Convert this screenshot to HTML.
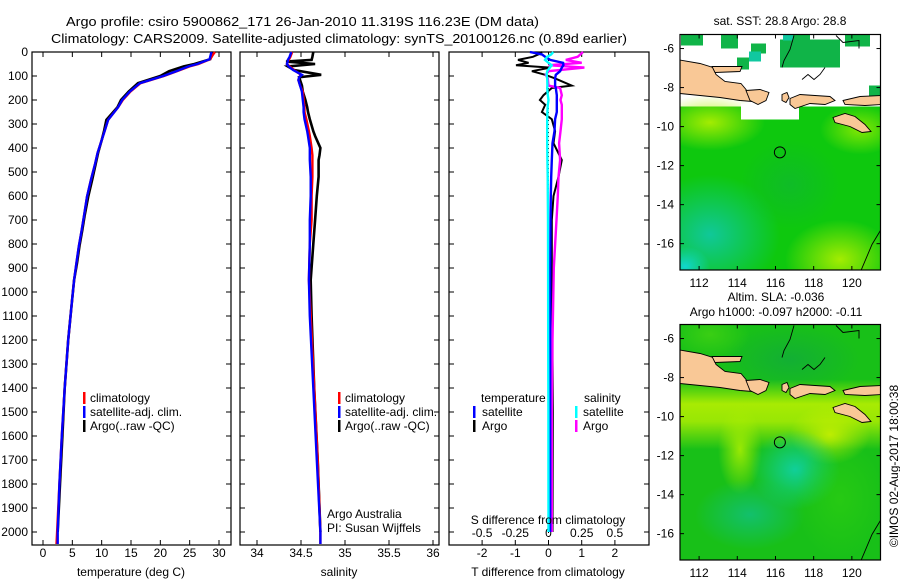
<!DOCTYPE html>
<html><head><meta charset="utf-8"><style>
html,body{margin:0;padding:0;background:#fff;}
svg{display:block;font-family:"Liberation Sans",sans-serif;}
text{font-size:12px;fill:#000;}
</style></head><body>
<svg id="fig" width="900" height="580" viewBox="0 0 900 580" xmlns="http://www.w3.org/2000/svg">
<text x="66" y="26" textLength="473" lengthAdjust="spacingAndGlyphs" style="font-size:13px">Argo profile: csiro 5900862_171 26-Jan-2010 11.319S 116.23E (DM data)</text>
<text x="51" y="43" textLength="576" lengthAdjust="spacingAndGlyphs" style="font-size:13px">Climatology: CARS2009. Satellite-adjusted climatology: synTS_20100126.nc (0.89d earlier)</text>
<g id="p1"></g>
<g id="p2"></g>
<g id="p3"></g>
<g id="m1"></g>
<g id="m2"></g>
<text x="780" y="25" text-anchor="middle">sat. SST: 28.8 Argo: 28.8</text>
<text x="776" y="301" text-anchor="middle">Altim. SLA: -0.036</text>
<text x="776" y="316" text-anchor="middle">Argo h1000: -0.097 h2000: -0.11</text>
<text transform="translate(898,466) rotate(-90)" text-anchor="middle">©IMOS 02-Aug-2017 18:00:38</text>
</svg>
<script>
// ---------- data ----------
const depthT = [0,10,30,50,60,80,100,130,165,200,230,283,330,367,420,464,530,603,680,742,810,880,950,1050,1200,1400,1600,1800,2000,2050];
const tempClim = [29.3,29.0,28.5,26.5,25.0,22.8,20.6,16.6,14.9,13.6,12.8,11.1,10.5,10.0,9.3,8.9,8.2,7.5,7.0,6.6,6.1,5.7,5.3,4.9,4.3,3.7,3.2,2.8,2.4,2.3];
const tempSat = [28.7,28.6,28.4,26.3,24.8,22.7,20.5,16.5,14.8,13.5,12.8,11.1,10.5,10.0,9.3,8.9,8.2,7.5,7.0,6.6,6.1,5.7,5.3,4.9,4.3,3.7,3.2,2.8,2.5,2.5];
const tempArgo = [29.0,28.8,28.5,25.8,24.0,21.5,20.0,16.2,14.6,13.3,12.7,10.8,10.4,10.0,9.4,9.0,8.4,7.7,7.1,6.7,6.2,5.8,5.3,4.9,4.3,3.7,3.3,2.9,2.5];
const depthS = [0,20,33,40,50,60,75,95,105,117,140,165,200,230,250,280,330,350,400,430,450,520,600,700,800,950,1100,1400,1700,2000,2050];
const salClim = [34.40,34.38,34.36,34.35,34.34,34.37,34.42,34.50,34.48,34.47,34.49,34.52,34.53,34.54,34.54,34.56,34.59,34.60,34.62,34.63,34.63,34.63,34.62,34.62,34.60,34.59,34.61,34.65,34.69,34.72,34.72];
const salSat = [34.39,34.37,34.35,34.35,34.34,34.36,34.41,34.51,34.48,34.47,34.49,34.51,34.52,34.53,34.53,34.54,34.57,34.58,34.60,34.60,34.60,34.61,34.61,34.60,34.60,34.59,34.60,34.64,34.68,34.72,34.72];
const salArgo = [34.64,34.63,34.62,34.33,34.66,34.35,34.42,34.73,34.48,34.49,34.51,34.52,34.55,34.57,34.58,34.60,34.64,34.66,34.72,34.71,34.70,34.70,34.68,34.66,34.64,34.61,34.62,34.65,34.69,34.72];
const depthD = [0,10,20,33,45,55,65,80,95,110,140,150,180,200,220,250,280,330,380,450,520,600,700,900,1200,1500,2000];
const tSatDiff = [-0.56,-0.2,-0.1,0.05,0.44,0.45,0.40,0.35,0.22,0.2,0.2,0.22,0.25,0.25,0.25,0.25,0.2,0.18,0.12,0.1,0.08,0.07,0.06,0.05,0.05,0.05,0.05];
const tArgoDiff = [-0.2,-0.3,-0.47,-0.92,-0.6,-0.98,0.05,-0.5,-0.1,0.2,0.7,0.1,-0.15,-0.26,-0.1,-0.2,0.1,0.2,0.15,0.4,0.3,0.15,0.1,0.1,0.12,0.13,0.12];
const sSatDiff = [0.036,0.02,-0.01,-0.026,0.0,0.024,0.01,-0.01,-0.014,-0.01,-0.008,-0.01,-0.005,0,-0.005,-0.008,-0.01,-0.01,-0.01,-0.008,-0.006,-0.005,-0.004,-0.003,-0.002,-0.001,0];
const sArgoDiff = [0.26,0.24,0.22,0.13,0.25,0.0,0.27,0.0,-0.02,-0.005,0.0,0.087,0.1,0.09,0.1,0.1,0.1,0.09,0.08,0.087,0.075,0.07,0.06,0.04,0.03,0.025,0.025];
const depthTicks = [0,100,200,300,400,500,600,700,800,900,1000,1100,1200,1300,1400,1500,1600,1700,1800,1900,2000];
const tempTicks = [0,5,10,15,20,25,30];
const salTicks = [34,34.5,35,35.5,36];
const tDiffTicks = [-2,-1,0,1,2];
const sDiffTicks = [-0.5,-0.25,0,0.25,0.5];
const lonTicks = [112,114,116,118,120];
const latTicks = [-6,-8,-10,-12,-14,-16];
const floatLon = 116.23, floatLat = -11.319;

// ---------- helpers ----------
const NS = "http://www.w3.org/2000/svg";
function mk(tag, attrs, parent){ const e=document.createElementNS(NS,tag); for(const k in attrs) e.setAttribute(k,attrs[k]); parent.appendChild(e); return e; }
const yD = d => 52 + d*0.24;
const TOP=52, BOT=545;

function frame(g,x0,x1,y0,y1){
  const r=mk('rect',{x:x0,y:y0,width:x1-x0,height:y1-y0,fill:'none',stroke:'#000','stroke-width':1.2},g);
  
  
}
function line(g,xs,ds,xf,col,name,w){
  const pts = xs.map((v,i)=>xf(v).toFixed(1)+','+yD(ds[i]).toFixed(1)).join(' ');
  const p=mk('polyline',{points:pts,fill:'none',stroke:col,'stroke-width':w||2.4,'stroke-linejoin':'miter'},g);
  
  
}
function yticks(g,x0,x1,labels){
  depthTicks.forEach(d=>{
    mk('line',{x1:x0,x2:x0+5,y1:yD(d),y2:yD(d),stroke:'#000'},g);
    mk('line',{x1:x1-5,x2:x1,y1:yD(d),y2:yD(d),stroke:'#000'},g);
    if(labels){ const t=mk('text',{x:28,y:yD(d)+4,'text-anchor':'end'},g); t.textContent=d;
      
       }
  });
}
function xticks(g,ticks,xf,labY){
  ticks.forEach(v=>{
    const x=xf(v);
    mk('line',{x1:x,x2:x,y1:TOP,y2:TOP+5,stroke:'#000'},g);
    mk('line',{x1:x,x2:x,y1:BOT-5,y2:BOT,stroke:'#000'},g);
    if(labY){ const t=mk('text',{x:x,y:labY,'text-anchor':'middle'},g); t.textContent=v;
      
       }
  });
}
function txt(g,x,y,s,name,anchor){
  const t=mk('text',{x:x,y:y,'text-anchor':anchor||'start'},g); t.textContent=s;
  
  
  return t;
}
function legBar(g,x,y,col){
  const r=mk('rect',{x:x,y:y-10,width:2.5,height:12,fill:col},g);
  
  
}

// ---------- panel 1: temperature ----------
const p1=document.getElementById('p1');
const xT = v => 43 + v*(176/30);
frame(p1,32,231,TOP,BOT);
yticks(p1,32,231,true);
xticks(p1,tempTicks,xT,557);
line(p1,tempArgo,depthT,xT,'#000','temperature-argo-line',2.6);
line(p1,tempClim,depthT,xT,'#f00','temperature-climatology-line');
line(p1,tempSat,depthT,xT,'#00f','temperature-satellite-line');
txt(p1,131,576,'temperature (deg C)','x-axis-title','middle');
legBar(p1,83,402,'#f00'); txt(p1,90,402,'climatology','legend-entry-climatology');
legBar(p1,83,416,'#00f'); txt(p1,90,416,'satellite-adj. clim.','legend-entry-satellite');
legBar(p1,83,430,'#000'); txt(p1,90,430,'Argo(..raw -QC)','legend-entry-argo');

// ---------- panel 2: salinity ----------
const p2=document.getElementById('p2');
const xS = v => 257 + (v-34)*88;
frame(p2,240,439,TOP,BOT);
yticks(p2,240,439,false);
xticks(p2,salTicks,xS,557);
line(p2,salArgo,depthS,xS,'#000','salinity-argo-line',2.6);
line(p2,salClim,depthS,xS,'#f00','salinity-climatology-line');
line(p2,salSat,depthS,xS,'#00f','salinity-satellite-line');
txt(p2,339,576,'salinity','x-axis-title','middle');
legBar(p2,338,402,'#f00'); txt(p2,345,402,'climatology','legend-entry-climatology');
legBar(p2,338,416,'#00f'); txt(p2,345,416,'satellite-adj. clim.','legend-entry-satellite');
legBar(p2,338,430,'#000'); txt(p2,345,430,'Argo(..raw -QC)','legend-entry-argo');
txt(p2,327,518,'Argo Australia','credit-label');
txt(p2,327,532,'PI: Susan Wijffels','pi-label');

// ---------- panel 3: differences ----------
const p3=document.getElementById('p3');
const xTd = v => 548.5 + v*33.2;
const xSd = v => 548.5 + v*132.8;
frame(p3,449,649,TOP,BOT);
yticks(p3,449,649,false);
xticks(p3,tDiffTicks,xTd,557);
sDiffTicks.forEach(v=>{ txt(p3,xSd(v),537,v,'s-diff-tick-label','middle'); });
mk('line',{x1:548.5,x2:548.5,y1:TOP,y2:BOT,stroke:'#000','stroke-dasharray':'1,3'},p3);
line(p3,tArgoDiff,depthD,xTd,'#000','t-argo-diff-line',2);
line(p3,sArgoDiff,depthD,xSd,'#f0f','s-argo-diff-line',2.4);
line(p3,tSatDiff,depthD,xTd,'#00f','t-satellite-diff-line',2.4);
line(p3,sSatDiff,depthD,xSd,'#0ff','s-satellite-diff-line',2.4);
txt(p3,548,576,'T difference from climatology','x-axis-title','middle');
txt(p3,548,524,'S difference from climatology','s-axis-title','middle');
txt(p3,481,402,'temperature','legend-heading-temperature');
txt(p3,584,402,'salinity','legend-heading-salinity');
legBar(p3,473,416,'#00f'); txt(p3,482,416,'satellite','legend-entry-t-satellite');
legBar(p3,473,430,'#000'); txt(p3,482,430,'Argo','legend-entry-t-argo');
legBar(p3,575,416,'#0ff'); txt(p3,583,416,'satellite','legend-entry-s-satellite');
legBar(p3,575,430,'#f0f'); txt(p3,583,430,'Argo','legend-entry-s-argo');

// ---------- maps ----------
const LON0=111.0, LON1=121.5, LAT0=-5.28, LAT1=-17.35;
function drawMap(id,y0,sst){
  const g=document.getElementById(id);
  const x0=680,x1=880.5,y1=y0+235.5;
  const W=x1-x0,H=y1-y0;
  const mx = lon => x0 + (lon-LON0)/(LON1-LON0)*W;
  const my = lat => y0 + (lat-LAT0)/(LAT1-LAT0)*H;
  const defs=mk('defs',{},g);
  const cid=id+'clip';
  const cp=mk('clipPath',{id:cid},defs); mk('rect',{x:x0,y:y0,width:W,height:H},cp);
  function rg(gid,col,op){ const r=mk('radialGradient',{id:gid},defs);
    mk('stop',{offset:'0','stop-color':col,'stop-opacity':op},r);
    mk('stop',{offset:'1','stop-color':col,'stop-opacity':0},r); return 'url(#'+gid+')'; }
  const cg=mk('g',{'clip-path':'url(#'+cid+')'},g);
  const R=(x,y,w,h,f)=>mk('rect',{x:x0+x,y:y0+y,width:w,height:h,fill:f},cg);
  const E=(cx,cy,rx,ry,f)=>mk('ellipse',{cx:x0+cx,cy:y0+cy,rx:rx,ry:ry,fill:f},cg);
  if(sst){
    R(0,0,W,H,'#fff');
    R(0,72,W,H-72,'#0ec80e');
    E(30,88,55,28,rg(id+'a','#b4f000',0.9));
    E(160,225,55,40,rg(id+'b','#b4f000',0.9));
    E(180,95,40,25,rg(id+'c','#a0f000',0.8));
    E(30,200,70,60,rg(id+'d','#10c8a0',0.95));
    E(5,232,25,20,rg(id+'e','#10d8e0',0.9));
    E(110,150,50,45,rg(id+'f','#10b040',0.5));
    R(61,69,58,16,'#fff');
    [[1,0,22,11],[41,0,17,14],[71,9,15,10],[57,23,12,12],[108,0,22,18],[100,5,60,28],[165,0,25,12],[189,51,12,12]].forEach(b=>R(b[0],b[1],b[2],b[3],'#10b448'));
    R(69,17,12,10,'#10c8a0'); R(103,0,10,6,'#10c8a0');
  } else {
    R(0,0,W,H,'#18c018');
    E(110,35,70,35,rg(id+'a','#10a840',0.7));
    const lg=mk('linearGradient',{id:id+'band',x1:0,y1:0,x2:0,y2:1},defs);
    mk('stop',{offset:'0','stop-color':'#b8f000','stop-opacity':0},lg);
    mk('stop',{offset:'0.35','stop-color':'#b8f000','stop-opacity':0.9},lg);
    mk('stop',{offset:'0.6','stop-color':'#b8f000','stop-opacity':0.8},lg);
    mk('stop',{offset:'1','stop-color':'#b8f000','stop-opacity':0},lg);
    R(0,55,W,70,'url(#'+id+'band)');
    E(60,125,22,45,rg(id+'c','#b0f000',0.85));
    E(150,110,40,30,rg(id+'d','#c8f000',0.9));
    E(115,145,45,40,rg(id+'e','#10d0a0',0.95));
    E(70,190,55,35,rg(id+'f','#10c090',0.7));
    E(160,175,45,60,rg(id+'g','#30d010',0.6));
    E(30,10,40,25,rg(id+'h','#50d810',0.6));
  }
  const land = [
    [[0,25.6],[20,29],[33,33],[36,40],[45,47],[61,49],[66,55],[72,67],[60,66],[40,63],[0,59]],
    [[32,32],[62,32],[60,37],[35,38]],
    [[66,56],[80,55],[89,58],[86,66],[78,70],[70,66]],
    [[102,60],[107,58],[109,63],[106,68],[102,66]],
    [[110,64],[120,60],[135,61],[150,62],[155,66],[145,70],[130,69],[115,74],[110,70]],
    [[163,66],[180,62],[201,61],[201,70],[185,71],[165,70]],
    [[153,83],[165,79],[175,82],[185,90],[191,97],[182,98],[170,92],[155,88]]
  ];
  land.forEach(poly=>{
    const p=mk('polygon',{points:poly.map(q=>(x0+q[0])+','+(y0+q[1])).join(' '),fill:'#f9c896',stroke:'#000','stroke-width':0.9},cg);
    
    
  });
  [[[114,1],[110,15],[104,26],[102,33]],[[201,195],[192,210],[181,236]],[[156,1],[163,8],[179,6],[179,14]],[[122,45],[128,40],[134,45],[140,40],[145,33]]].forEach(pl=>{
    mk('polyline',{points:pl.map(q=>(x0+q[0])+','+(y0+q[1])).join(' '),fill:'none',stroke:'#000','stroke-width':0.9},cg);
  });
  const c=mk('circle',{cx:mx(floatLon),cy:my(floatLat),r:5.5,fill:'none',stroke:'#000','stroke-width':1},g);
  
  
  mk('rect',{x:x0,y:y0,width:W,height:H,fill:'none',stroke:'#000','stroke-width':1.2},g);
  lonTicks.forEach(l=>{ const x=mx(l);
    mk('line',{x1:x,x2:x,y1:y1,y2:y1-4,stroke:'#000'},g);
    mk('line',{x1:x,x2:x,y1:y0,y2:y0+4,stroke:'#000'},g);
    txt(g,x,y1+17,l,'lon-tick-label','middle'); });
  latTicks.forEach(l=>{ const y=my(l);
    mk('line',{x1:x0,x2:x0+4,y1:y,y2:y,stroke:'#000'},g);
    mk('line',{x1:x1,x2:x1-4,y1:y,y2:y,stroke:'#000'},g);
    txt(g,x0-6,y+4,l,'lat-tick-label','end'); });
}
drawMap('m1',34.5,true);
drawMap('m2',324.5,false);
</script>
</body></html>
